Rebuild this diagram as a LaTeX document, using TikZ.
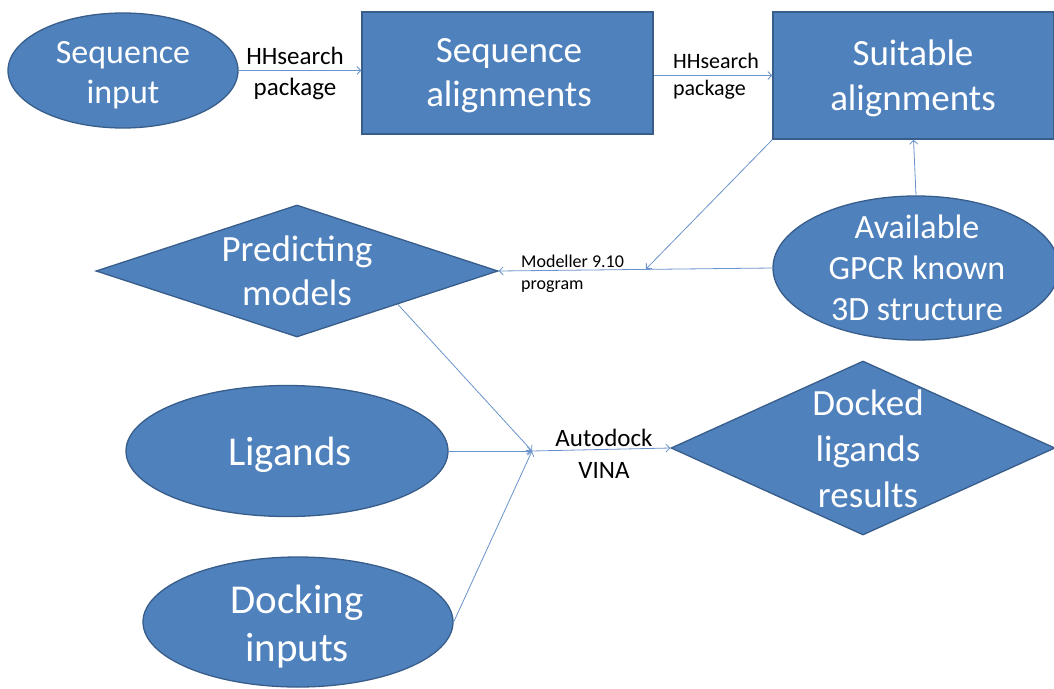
\documentclass[tikz,border=0pt]{standalone}
\usepackage{fontspec}
\setmainfont{Carlito}
\usetikzlibrary{shapes.geometric,arrows.meta,calc}
\definecolor{boxfill}{HTML}{4F81BD}
\definecolor{boxline}{HTML}{385D8A}
\definecolor{arrowc}{HTML}{6A93CB}
\begin{document}
\begin{tikzpicture}[x=1pt,y=-1pt,
  shapebox/.style={fill=boxfill,draw=boxline,line width=1.3pt,inner sep=0pt},
  ell/.style={shapebox,ellipse},
  rect/.style={shapebox,rectangle},
  dia/.style={shapebox,diamond},
  wtext/.style={text=white,align=center,inner sep=0pt},
  ltext/.style={text=black,inner sep=0pt},
  conn/.style={draw=arrowc,line width=0.8pt,-{Straight Barb[length=4pt,width=8pt]}},
]
\useasboundingbox (0,0) rectangle (1054,688);

% shapes
\node[ell,minimum width=230,minimum height=115] (seqin) at (123,70.5) {};
\node[rect,minimum width=291,minimum height=122] (seqal) at (507.5,73) {};
\node[rect,minimum width=281,minimum height=127] (suit) at (913.5,75.5) {};
\node[ell,minimum width=286,minimum height=144] (gpcr) at (916,268) {};
\node[dia,minimum width=402,minimum height=132] (pred) at (297,271) {};
\node[ell,minimum width=322,minimum height=131] (lig) at (287,451) {};
\node[ell,minimum width=310,minimum height=130] (dock) at (298,622) {};
\node[dia,minimum width=384,minimum height=174] (docked) at (863,448) {};

% texts
\node[wtext,font=\fontsize{34}{40}\selectfont] (seqinT) at (123,75) {Sequence\\input};
\node[wtext,font=\fontsize{37}{44}\selectfont] (seqalT) at (509,76) {Sequence\\alignments};
\node[wtext,font=\fontsize{37}{45}\selectfont] (suitT) at (913,78) {Suitable\\alignments};
\node[wtext,font=\fontsize{34}{41}\selectfont] (gpcrT) at (917,268) {Available\\GPCR known\\3D structure};
\node[wtext,font=\fontsize{37}{44}\selectfont] (predT) at (297,271) {Predicting\\models};
\node[wtext,font=\fontsize{41}{45}\selectfont] (ligT) at (290,455) {Ligands};
\node[wtext,font=\fontsize{41}{48}\selectfont] (dockT) at (297,627) {Docking\\inputs};
\node[wtext,font=\fontsize{37}{46}\selectfont] (dockedT) at (868,449) {Docked\\ligands\\results};

% labels
\node[ltext,align=center,font=\fontsize{25}{31}\selectfont] (lab1) at (295,73) {HHsearch\\package};
\node[ltext,align=left,font=\fontsize{22}{27}\selectfont] (lab2) at (716,76) {HHsearch\\package};
\node[ltext,align=left,anchor=west,font=\fontsize{18}{22}\selectfont] (lab3) at (521,274) {Modeller 9.10\\program};
\node[ltext,align=center,font=\fontsize{25}{32}\selectfont] (lab4) at (604,454) {Autodock\\VINA};

% connectors
\coordinate (m1) at (646,269);
\coordinate (J) at (532,451);
\draw[conn] (seqin.east) -- (seqin.east -| seqal.west);
\draw[conn] (seqal.east |- suit.west) -- (suit.west);
\draw[conn] (gpcr.north) -- (suit.south);
\draw[conn] (gpcr.west) -- (pred.east);
\draw[conn] (suit.south west) -- (m1);
\draw[conn] (pred.south east) -- (J);
\draw[conn] (lig.east) -- (J);
\draw[conn] (dock.east) -- (J);
\draw[conn] (J) -- (docked.west);
\end{tikzpicture}
\end{document}
